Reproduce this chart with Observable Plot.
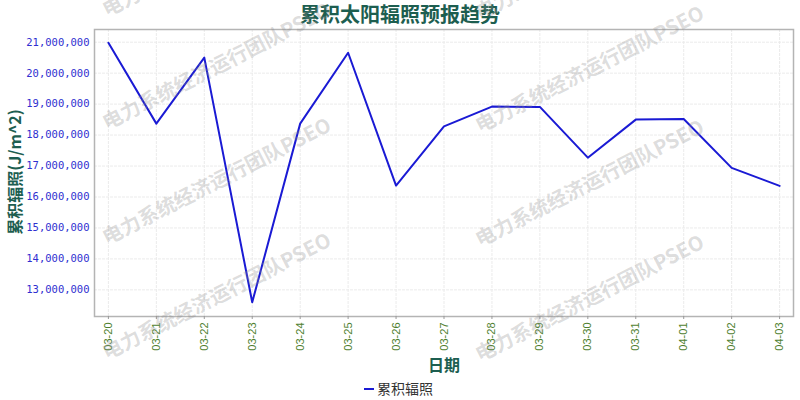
<!DOCTYPE html>
<html><head><meta charset="utf-8">
<script src="https://cdn.jsdelivr.net/npm/d3@7"></script>
<script src="https://cdn.jsdelivr.net/npm/@observablehq/plot@0.6"></script>
<style>
body{margin:0;background:#fff;}
#wrap{position:relative;width:800px;height:400px;}
</style>
</head><body><div id="wrap"></div>
<script>
const dates = ["03-20","03-21","03-22","03-23","03-24","03-25","03-26","03-27","03-28","03-29","03-30","03-31","04-01","04-02","04-03"];
const values = [20980000,18370000,20500000,12600000,18370000,20660000,16370000,18280000,18920000,18910000,17270000,18500000,18520000,16940000,16360000];
const yTicks = [13000000,14000000,15000000,16000000,17000000,18000000,19000000,20000000,21000000];
const titleText = "累积太阳辐照预报趋势";
const yLabel = "累积辐照(J/m^2)";
const xLabel = "日期";
const seriesName = "累积辐照";
const watermark = "电力系统经济运行团队PSEO";

const data = dates.map((d, i) => ({idx: i, date: d, value: values[i]}));
const xTicks = dates.map((d, i) => i);
const CJK = "'Noto Sans CJK SC', 'Noto Sans', sans-serif";
const teal = "#1d5e50";
const lineColor = "#1a1ad4";

const plot = Plot.plot({
  width: 800, height: 400,
  marginTop: 29, marginBottom: 84, marginLeft: 94, marginRight: 7,
  style: {background: "#fff", overflow: "visible"},
  x: {type: "linear", domain: [-0.29, dates.length - 1 + 0.29]},
  y: {domain: [12140000, 21410000]},
  marks: [
    Plot.gridX({ticks: xTicks, stroke: "#ebebeb", strokeOpacity: 1, strokeDasharray: "3,1"}),
    Plot.gridY({ticks: yTicks, stroke: "#ebebeb", strokeOpacity: 1, strokeDasharray: "3,1"}),
    Plot.frame({stroke: "#b4b4b4", strokeWidth: 1.5}),
    Plot.axisY({ticks: yTicks, tickSize: 0, tickPadding: 5, tickFormat: d3.format(","), fill: "#2f2fd0", fontSize: 10.5, fontFamily: "'DejaVu Sans Mono', monospace", label: null}),
    Plot.axisX({ticks: xTicks, tickFormat: i => dates[i], tickRotate: -90, tickSize: 3, tickPadding: 3, stroke: "#999", fill: "#4f7f2f", fontSize: 11, fontFamily: "'Liberation Sans', sans-serif", label: null}),
    Plot.line(data, {x: "idx", y: "value", stroke: lineColor, strokeWidth: 2})
  ]
});
document.getElementById("wrap").appendChild(plot);

const svg = d3.select(plot);
// title
svg.append("text").attr("x", 400).attr("y", 13).attr("text-anchor", "middle").attr("dominant-baseline", "central")
  .style("font-family", CJK).style("font-size", "20px").style("font-weight", "bold").attr("fill", teal).text(titleText);
// y label
svg.append("text").attr("transform", "translate(14,172) rotate(-90)").attr("text-anchor", "middle").attr("dominant-baseline", "central")
  .style("font-family", CJK).style("font-size", "16px").style("font-weight", "bold").attr("fill", teal).text(yLabel);
// x label
svg.append("text").attr("x", 444).attr("y", 364).attr("text-anchor", "middle").attr("dominant-baseline", "central")
  .style("font-family", CJK).style("font-size", "16px").style("font-weight", "bold").attr("fill", teal).text(xLabel);
// legend
svg.append("line").attr("x1", 364).attr("x2", 374).attr("y1", 389).attr("y2", 389).attr("stroke", lineColor).attr("stroke-width", 2);
svg.append("text").attr("x", 377).attr("y", 388).attr("text-anchor", "start").attr("dominant-baseline", "central")
  .style("font-family", CJK).style("font-size", "14px").attr("fill", "#333").text(seriesName);
// watermark
const wmStarts = [[107,17],[107,130],[107,245],[107,360],[480,20],[480,133],[480,247],[480,362]];
const wm = svg.append("g").attr("pointer-events", "none");
wmStarts.forEach(([x, y]) => {
  wm.append("text").attr("transform", `translate(${x},${y}) rotate(-27)`).attr("text-anchor", "start")
    .style("font-family", CJK).style("font-size", "20px").style("font-weight", "bold")
    .attr("fill", "#8c8c8c").attr("fill-opacity", 0.3).text(watermark);
});
</script>
</body></html>
